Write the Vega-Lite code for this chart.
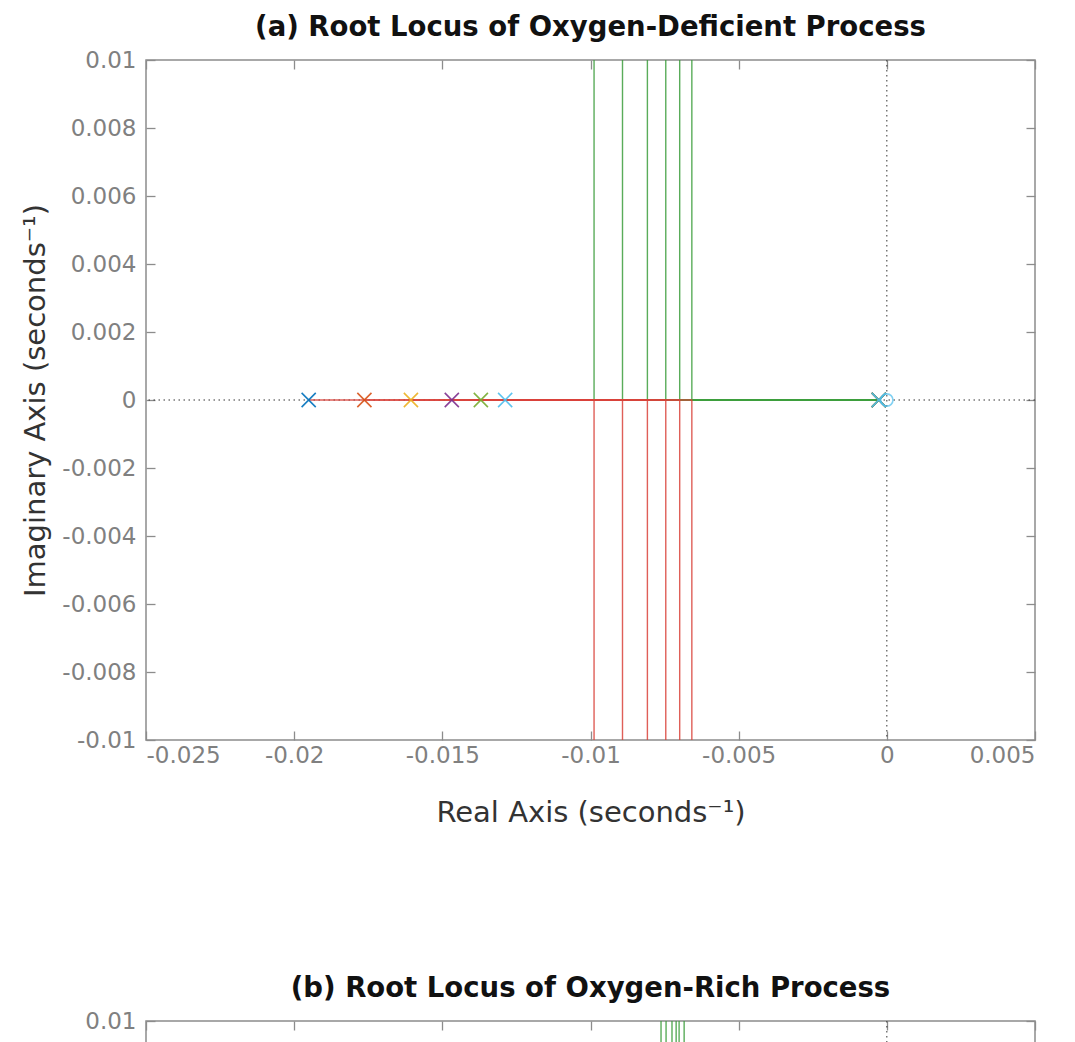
{
  "$schema": "https://vega.github.io/schema/vega-lite/v6.json",
  "background": "white",
  "padding": {"left": 21, "top": 12, "right": 0, "bottom": 0},
  "config": {
    "font": "DejaVu Sans",
    "view": {"stroke": "#8c8c8c", "strokeWidth": 1.5},
    "axis": {
      "grid": false, "domain": false,
      "tickColor": "#8c8c8c", "tickSize": -9, "tickWidth": 1.3,
      "labelFont": "DejaVu Sans", "labelFontSize": 23, "labelColor": "#808080",
      "titleFont": "DejaVu Sans", "titleFontSize": 29, "titleFontWeight": "normal", "titleColor": "#333333"
    },
    "title": {"font": "DejaVu Sans", "fontSize": 27.5, "fontWeight": "bold", "color": "#111111", "offset": 8}
  },
  "datasets": {
    "locusA": [
      {"branch": "1L", "side": "lower", "step": 0, "re": -0.01951, "im": 0},
      {"branch": "1L", "side": "lower", "step": 1, "re": -0.00988, "im": 0},
      {"branch": "1L", "side": "lower", "step": 2, "re": -0.00988, "im": -0.01},
      {"branch": "2L", "side": "lower", "step": 0, "re": -0.01763, "im": 0},
      {"branch": "2L", "side": "lower", "step": 1, "re": -0.00892, "im": 0},
      {"branch": "2L", "side": "lower", "step": 2, "re": -0.00892, "im": -0.01},
      {"branch": "3L", "side": "lower", "step": 0, "re": -0.01606, "im": 0},
      {"branch": "3L", "side": "lower", "step": 1, "re": -0.00808, "im": 0},
      {"branch": "3L", "side": "lower", "step": 2, "re": -0.00808, "im": -0.01},
      {"branch": "4L", "side": "lower", "step": 0, "re": -0.01468, "im": 0},
      {"branch": "4L", "side": "lower", "step": 1, "re": -0.00746, "im": 0},
      {"branch": "4L", "side": "lower", "step": 2, "re": -0.00746, "im": -0.01},
      {"branch": "5L", "side": "lower", "step": 0, "re": -0.0137, "im": 0},
      {"branch": "5L", "side": "lower", "step": 1, "re": -0.00699, "im": 0},
      {"branch": "5L", "side": "lower", "step": 2, "re": -0.00699, "im": -0.01},
      {"branch": "6L", "side": "lower", "step": 0, "re": -0.01288, "im": 0},
      {"branch": "6L", "side": "lower", "step": 1, "re": -0.00658, "im": 0},
      {"branch": "6L", "side": "lower", "step": 2, "re": -0.00658, "im": -0.01},
      {"branch": "1U", "side": "upper", "step": 0, "re": -0.00027, "im": 0},
      {"branch": "1U", "side": "upper", "step": 1, "re": -0.00988, "im": 0},
      {"branch": "1U", "side": "upper", "step": 2, "re": -0.00988, "im": 0.01},
      {"branch": "2U", "side": "upper", "step": 0, "re": -0.00027, "im": 0},
      {"branch": "2U", "side": "upper", "step": 1, "re": -0.00892, "im": 0},
      {"branch": "2U", "side": "upper", "step": 2, "re": -0.00892, "im": 0.01},
      {"branch": "3U", "side": "upper", "step": 0, "re": -0.00027, "im": 0},
      {"branch": "3U", "side": "upper", "step": 1, "re": -0.00808, "im": 0},
      {"branch": "3U", "side": "upper", "step": 2, "re": -0.00808, "im": 0.01},
      {"branch": "4U", "side": "upper", "step": 0, "re": -0.00027, "im": 0},
      {"branch": "4U", "side": "upper", "step": 1, "re": -0.00746, "im": 0},
      {"branch": "4U", "side": "upper", "step": 2, "re": -0.00746, "im": 0.01},
      {"branch": "5U", "side": "upper", "step": 0, "re": -0.00027, "im": 0},
      {"branch": "5U", "side": "upper", "step": 1, "re": -0.00699, "im": 0},
      {"branch": "5U", "side": "upper", "step": 2, "re": -0.00699, "im": 0.01},
      {"branch": "6U", "side": "upper", "step": 0, "re": -0.00027, "im": 0},
      {"branch": "6U", "side": "upper", "step": 1, "re": -0.00658, "im": 0},
      {"branch": "6U", "side": "upper", "step": 2, "re": -0.00658, "im": 0.01}
    ],
    "polesA": [
      {"system": "1", "re": -0.01951, "im": 0},
      {"system": "2", "re": -0.01763, "im": 0},
      {"system": "3", "re": -0.01606, "im": 0},
      {"system": "4", "re": -0.01468, "im": 0},
      {"system": "5", "re": -0.0137, "im": 0},
      {"system": "6", "re": -0.01288, "im": 0},
      {"system": "1", "re": -0.00027, "im": 0},
      {"system": "2", "re": -0.00027, "im": 0},
      {"system": "3", "re": -0.00027, "im": 0},
      {"system": "4", "re": -0.00027, "im": 0},
      {"system": "5", "re": -0.00027, "im": 0},
      {"system": "6", "re": -0.00027, "im": 0}
    ],
    "zerosA": [{"re": 0, "im": 0}],
    "origin": [{"re": 0, "im": 0}],
    "locusB": [
      {"branch": "1U", "side": "upper", "step": 0, "re": -0.00762, "im": 0},
      {"branch": "1U", "side": "upper", "step": 1, "re": -0.00762, "im": 0.01},
      {"branch": "2U", "side": "upper", "step": 0, "re": -0.00745, "im": 0},
      {"branch": "2U", "side": "upper", "step": 1, "re": -0.00745, "im": 0.01},
      {"branch": "3U", "side": "upper", "step": 0, "re": -0.00725, "im": 0},
      {"branch": "3U", "side": "upper", "step": 1, "re": -0.00725, "im": 0.01},
      {"branch": "4U", "side": "upper", "step": 0, "re": -0.00711, "im": 0},
      {"branch": "4U", "side": "upper", "step": 1, "re": -0.00711, "im": 0.01},
      {"branch": "5U", "side": "upper", "step": 0, "re": -0.00701, "im": 0},
      {"branch": "5U", "side": "upper", "step": 1, "re": -0.00701, "im": 0.01},
      {"branch": "6U", "side": "upper", "step": 0, "re": -0.00684, "im": 0},
      {"branch": "6U", "side": "upper", "step": 1, "re": -0.00684, "im": 0.01}
    ]
  },
  "spacing": 145,
  "vconcat": [
    {
      "title": "(a) Root Locus of Oxygen-Deficient Process",
      "width": 889,
      "height": 680,
      "layer": [
        {
          "data": {"name": "origin"},
          "mark": {"type": "rule", "strokeDash": [1.5, 3.5], "color": "#333333", "strokeWidth": 1},
          "encoding": {
            "x": {"field": "re", "type": "quantitative", "scale": {"domain": [-0.025, 0.005], "nice": false, "zero": false},
                  "axis": {"orient": "top", "labels": false, "title": null, "values": [-0.025, -0.02, -0.015, -0.01, -0.005, 0, 0.005]}}
          }
        },
        {
          "data": {"name": "origin"},
          "mark": {"type": "rule", "strokeDash": [1.5, 3.5], "color": "#333333", "strokeWidth": 1},
          "encoding": {
            "y": {"field": "im", "type": "quantitative", "scale": {"domain": [-0.01, 0.01], "nice": false, "zero": false},
                  "axis": {"orient": "right", "labels": false, "title": null, "values": [-0.01, -0.008, -0.006, -0.004, -0.002, 0, 0.002, 0.004, 0.006, 0.008, 0.01]}}
          }
        },
        {
          "data": {"name": "locusA"},
          "transform": [{"filter": "datum.side == 'upper'"}],
          "mark": {"type": "line", "strokeWidth": 1.4, "opacity": 0.85, "clip": true},
          "encoding": {
            "x": {"field": "re", "type": "quantitative", "scale": {"domain": [-0.025, 0.005], "nice": false, "zero": false},
                  "axis": {"orient": "bottom", "values": [-0.025, -0.02, -0.015, -0.01, -0.005, 0, 0.005],
                           "labelExpr": "datum.value == 0 ? '0' : (datum.value < 0 ? '-' : '') + format(abs(datum.value), '~g')",
                           "labelPadding": 13, "title": "Real Axis (seconds⁻¹)", "titlePadding": 31}},
            "y": {"field": "im", "type": "quantitative", "scale": {"domain": [-0.01, 0.01], "nice": false, "zero": false},
                  "axis": {"orient": "left", "values": [-0.01, -0.008, -0.006, -0.004, -0.002, 0, 0.002, 0.004, 0.006, 0.008, 0.01],
                           "labelExpr": "datum.value == 0 ? '0' : (datum.value < 0 ? '-' : '') + format(abs(datum.value), '~g')",
                           "labelPadding": 19, "title": "Imaginary Axis (seconds⁻¹)", "titlePadding": 11}},
            "detail": {"field": "branch", "type": "nominal"},
            "order": {"field": "step", "type": "quantitative"},
            "color": {"field": "side", "type": "nominal", "scale": {"domain": ["lower", "upper"], "range": ["#d9433b", "#3d9e3d"]}, "legend": null}
          }
        },
        {
          "data": {"name": "locusA"},
          "transform": [{"filter": "datum.side == 'lower'"}],
          "mark": {"type": "line", "strokeWidth": 1.4, "opacity": 0.85, "clip": true},
          "encoding": {
            "x": {"field": "re", "type": "quantitative", "scale": {"domain": [-0.025, 0.005], "nice": false, "zero": false}, "axis": null},
            "y": {"field": "im", "type": "quantitative", "scale": {"domain": [-0.01, 0.01], "nice": false, "zero": false}, "axis": null},
            "detail": {"field": "branch", "type": "nominal"},
            "order": {"field": "step", "type": "quantitative"},
            "color": {"field": "side", "type": "nominal", "scale": {"domain": ["lower", "upper"], "range": ["#d9433b", "#3d9e3d"]}, "legend": null}
          }
        },
        {
          "data": {"name": "polesA"},
          "mark": {"type": "point", "shape": "M-1,-1L1,1M-1,1L1,-1", "size": 200, "strokeWidth": 1.6, "filled": false, "opacity": 0.9},
          "encoding": {
            "x": {"field": "re", "type": "quantitative", "scale": {"domain": [-0.025, 0.005], "nice": false, "zero": false}, "axis": null},
            "y": {"field": "im", "type": "quantitative", "scale": {"domain": [-0.01, 0.01], "nice": false, "zero": false}, "axis": null},
            "stroke": {"field": "system", "type": "nominal", "scale": {"domain": ["1", "2", "3", "4", "5", "6"], "range": ["#0072BD", "#D95319", "#EDB120", "#7E2F8E", "#77AC30", "#4DBEEE"]}, "legend": null}
          }
        },
        {
          "data": {"name": "zerosA"},
          "mark": {"type": "point", "shape": "circle", "size": 150, "strokeWidth": 1.6, "filled": false, "color": "#4DBEEE"},
          "encoding": {
            "x": {"field": "re", "type": "quantitative", "scale": {"domain": [-0.025, 0.005], "nice": false, "zero": false}, "axis": null},
            "y": {"field": "im", "type": "quantitative", "scale": {"domain": [-0.01, 0.01], "nice": false, "zero": false}, "axis": null}
          }
        }
      ],
      "resolve": {"axis": {"x": "independent", "y": "independent"}}
    },
    {
      "title": "(b) Root Locus of Oxygen-Rich Process",
      "width": 889,
      "height": 680,
      "layer": [
        {
          "data": {"name": "origin"},
          "mark": {"type": "rule", "strokeDash": [1.5, 3.5], "color": "#333333", "strokeWidth": 1},
          "encoding": {
            "x": {"field": "re", "type": "quantitative", "scale": {"domain": [-0.025, 0.005], "nice": false, "zero": false},
                  "axis": {"orient": "top", "labels": false, "title": null, "values": [-0.025, -0.02, -0.015, -0.01, -0.005, 0, 0.005]}}
          }
        },
        {
          "data": {"name": "origin"},
          "mark": {"type": "rule", "strokeDash": [1.5, 3.5], "color": "#333333", "strokeWidth": 1},
          "encoding": {
            "y": {"field": "im", "type": "quantitative", "scale": {"domain": [-0.01, 0.01], "nice": false, "zero": false},
                  "axis": {"orient": "right", "labels": false, "title": null, "values": [-0.01, -0.008, -0.006, -0.004, -0.002, 0, 0.002, 0.004, 0.006, 0.008, 0.01]}}
          }
        },
        {
          "data": {"name": "locusB"},
          "mark": {"type": "line", "strokeWidth": 1.4, "opacity": 0.85, "clip": true},
          "encoding": {
            "x": {"field": "re", "type": "quantitative", "scale": {"domain": [-0.025, 0.005], "nice": false, "zero": false},
                  "axis": {"orient": "bottom", "values": [-0.025, -0.02, -0.015, -0.01, -0.005, 0, 0.005],
                           "labelExpr": "datum.value == 0 ? '0' : (datum.value < 0 ? '-' : '') + format(abs(datum.value), '~g')",
                           "labelPadding": 13, "title": "Real Axis (seconds⁻¹)", "titlePadding": 31}},
            "y": {"field": "im", "type": "quantitative", "scale": {"domain": [-0.01, 0.01], "nice": false, "zero": false},
                  "axis": {"orient": "left", "values": [-0.01, -0.008, -0.006, -0.004, -0.002, 0, 0.002, 0.004, 0.006, 0.008, 0.01],
                           "labelExpr": "datum.value == 0 ? '0' : (datum.value < 0 ? '-' : '') + format(abs(datum.value), '~g')",
                           "labelPadding": 19, "title": "Imaginary Axis (seconds⁻¹)", "titlePadding": 11}},
            "detail": {"field": "branch", "type": "nominal"},
            "order": {"field": "step", "type": "quantitative"},
            "color": {"field": "side", "type": "nominal", "scale": {"domain": ["lower", "upper"], "range": ["#d9433b", "#2e8f2e"]}, "legend": null}
          }
        }
      ],
      "resolve": {"axis": {"x": "independent", "y": "independent"}}
    }
  ]
}
